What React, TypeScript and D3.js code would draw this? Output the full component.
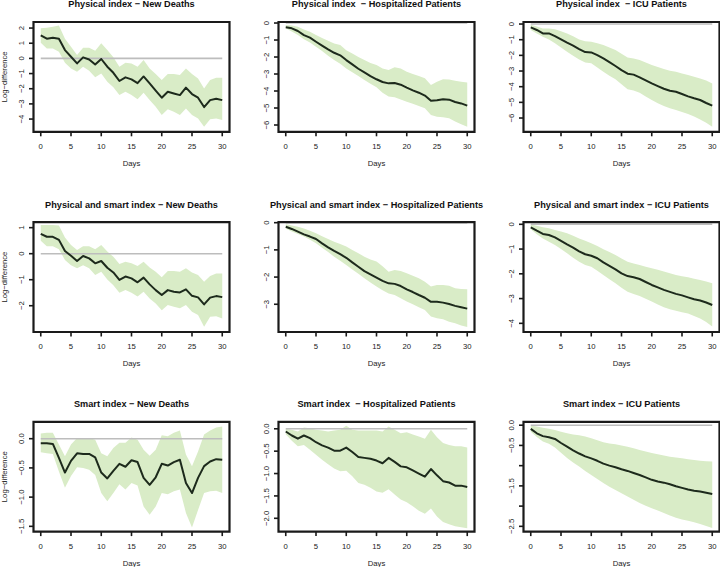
import React from 'react';
import * as d3 from 'd3';

const days = d3.range(0, 31);
const xTicks = [0, 5, 10, 15, 20, 25, 30];

const physDeathsMid = [1.52,1.30,1.36,1.30,0.55,0.11,-0.33,0.07,-0.07,-0.40,-0.04,-0.55,-0.95,-1.49,-1.25,-1.38,-1.63,-1.19,-1.65,-2.13,-2.59,-2.20,-2.31,-2.42,-1.93,-2.35,-2.59,-3.21,-2.75,-2.66,-2.75];
const physDeathsHi = [1.98,2.02,2.08,2.17,1.30,0.77,0.22,0.70,0.70,0.50,1.00,0.55,0.07,-0.55,-0.29,-0.33,-0.55,-0.11,-0.66,-1.03,-1.43,-1.03,-1.03,-1.10,-0.66,-1.03,-1.32,-1.98,-1.43,-1.27,-1.27];
const physDeathsLo = [1.03,0.66,0.66,0.44,-0.29,-0.66,-0.88,-0.55,-0.81,-1.25,-0.99,-1.54,-1.91,-2.42,-2.20,-2.42,-2.70,-2.26,-2.75,-3.19,-3.74,-3.36,-3.52,-3.74,-3.30,-3.74,-3.96,-4.50,-4.02,-3.96,-4.07];

const physHospMid = [-0.25,-0.31,-0.47,-0.71,-0.86,-1.10,-1.33,-1.55,-1.75,-1.90,-2.18,-2.43,-2.69,-2.90,-3.12,-3.31,-3.47,-3.55,-3.53,-3.63,-3.80,-3.96,-4.10,-4.27,-4.57,-4.55,-4.49,-4.51,-4.65,-4.73,-4.86];
const physHospHi = [-0.12,-0.15,-0.22,-0.38,-0.52,-0.70,-0.88,-1.05,-1.20,-1.30,-1.60,-1.80,-2.00,-2.18,-2.35,-2.47,-2.67,-2.76,-2.60,-2.67,-2.86,-3.00,-3.12,-3.25,-3.65,-3.45,-3.31,-3.33,-3.39,-3.45,-3.50];
const physHospLo = [-0.31,-0.50,-0.70,-0.95,-1.15,-1.39,-1.65,-1.92,-2.18,-2.40,-2.67,-2.90,-3.12,-3.35,-3.58,-3.78,-4.10,-4.33,-4.37,-4.50,-4.63,-4.75,-4.88,-5.02,-5.41,-5.51,-5.55,-5.60,-5.80,-5.95,-6.10];

const physIcuMid = [-0.21,-0.38,-0.60,-0.60,-0.77,-0.98,-1.19,-1.38,-1.60,-1.79,-1.81,-1.98,-2.19,-2.43,-2.68,-2.94,-3.17,-3.23,-3.40,-3.60,-3.79,-3.96,-4.13,-4.26,-4.32,-4.47,-4.62,-4.74,-4.85,-5.04,-5.21];
const physIcuHi = [-0.04,-0.15,-0.28,-0.28,-0.34,-0.46,-0.60,-0.78,-0.98,-1.10,-1.13,-1.22,-1.34,-1.50,-1.66,-1.90,-2.13,-2.20,-2.30,-2.45,-2.62,-2.75,-2.87,-2.98,-3.04,-3.15,-3.26,-3.36,-3.47,-3.60,-3.79];
const physIcuLo = [-0.38,-0.60,-0.81,-0.98,-1.23,-1.50,-1.77,-2.02,-2.26,-2.45,-2.51,-2.78,-3.04,-3.30,-3.53,-3.85,-4.17,-4.25,-4.38,-4.62,-4.85,-5.05,-5.23,-5.38,-5.49,-5.62,-5.74,-5.90,-6.09,-6.30,-6.55];

const bothDeathsMid = [0.76,0.65,0.65,0.53,0.10,-0.08,-0.28,-0.09,-0.18,-0.37,-0.28,-0.54,-0.72,-1.01,-0.88,-0.95,-1.10,-0.92,-1.18,-1.40,-1.59,-1.40,-1.46,-1.49,-1.37,-1.62,-1.68,-1.95,-1.69,-1.63,-1.67];
const bothDeathsHi = [1.10,1.10,1.10,1.08,0.62,0.33,0.14,0.29,0.29,0.17,0.33,0.08,-0.12,-0.40,-0.31,-0.37,-0.47,-0.31,-0.53,-0.69,-0.91,-0.67,-0.67,-0.69,-0.56,-0.72,-0.82,-1.08,-0.86,-0.76,-0.76];
const bothDeathsLo = [0.50,0.29,0.29,0.17,-0.24,-0.44,-0.56,-0.44,-0.56,-0.82,-0.69,-0.99,-1.21,-1.50,-1.40,-1.50,-1.65,-1.46,-1.72,-1.91,-2.17,-1.97,-2.04,-2.10,-1.97,-2.23,-2.36,-2.81,-2.42,-2.40,-2.49];

const bothHospMid = [-0.15,-0.23,-0.33,-0.43,-0.51,-0.60,-0.76,-0.91,-1.04,-1.16,-1.29,-1.46,-1.62,-1.78,-1.90,-2.02,-2.14,-2.23,-2.25,-2.33,-2.45,-2.55,-2.66,-2.76,-2.91,-2.91,-2.94,-2.99,-3.06,-3.11,-3.16];
const bothHospHi = [-0.06,-0.10,-0.15,-0.21,-0.30,-0.39,-0.50,-0.60,-0.70,-0.78,-0.88,-1.00,-1.12,-1.25,-1.35,-1.43,-1.60,-1.80,-1.74,-1.78,-1.86,-1.95,-2.04,-2.17,-2.35,-2.29,-2.29,-2.32,-2.41,-2.44,-2.45];
const bothHospLo = [-0.21,-0.32,-0.42,-0.51,-0.63,-0.76,-0.92,-1.08,-1.25,-1.40,-1.56,-1.72,-1.88,-2.04,-2.20,-2.35,-2.48,-2.60,-2.66,-2.78,-2.90,-3.00,-3.11,-3.21,-3.45,-3.51,-3.55,-3.64,-3.70,-3.78,-3.84];

const bothIcuMid = [-0.12,-0.26,-0.39,-0.43,-0.53,-0.67,-0.81,-0.94,-1.09,-1.21,-1.27,-1.37,-1.54,-1.68,-1.82,-1.98,-2.09,-2.14,-2.21,-2.33,-2.45,-2.55,-2.65,-2.73,-2.81,-2.87,-2.95,-3.03,-3.08,-3.16,-3.26];
const bothIcuHi = [-0.01,-0.06,-0.12,-0.16,-0.23,-0.29,-0.36,-0.46,-0.57,-0.66,-0.77,-0.88,-1.01,-1.12,-1.24,-1.38,-1.51,-1.58,-1.64,-1.71,-1.78,-1.84,-1.91,-1.98,-2.05,-2.10,-2.14,-2.20,-2.25,-2.31,-2.38];
const bothIcuLo = [-0.20,-0.40,-0.57,-0.70,-0.84,-1.00,-1.17,-1.35,-1.51,-1.64,-1.71,-1.88,-2.05,-2.22,-2.38,-2.56,-2.72,-2.82,-2.90,-3.01,-3.12,-3.24,-3.35,-3.43,-3.49,-3.55,-3.60,-3.70,-3.80,-3.95,-4.13];

const smartDeathsMid = [-0.08,-0.08,-0.09,-0.33,-0.58,-0.38,-0.25,-0.26,-0.26,-0.32,-0.58,-0.68,-0.55,-0.43,-0.48,-0.37,-0.40,-0.67,-0.79,-0.66,-0.43,-0.46,-0.40,-0.36,-0.76,-0.93,-0.67,-0.47,-0.39,-0.35,-0.36];
const smartDeathsHi = [0.09,0.10,0.10,-0.10,-0.30,-0.10,0.01,0.01,0.01,-0.02,-0.25,-0.30,-0.16,-0.07,-0.07,0.02,-0.02,-0.19,-0.29,-0.19,0.06,0.04,0.10,0.14,-0.27,-0.47,-0.22,0.07,0.14,0.19,0.21];
const smartDeathsLo = [-0.23,-0.25,-0.26,-0.56,-0.84,-0.64,-0.49,-0.50,-0.53,-0.62,-0.93,-1.07,-0.93,-0.78,-0.87,-0.76,-0.80,-1.16,-1.30,-1.16,-0.93,-0.95,-0.90,-0.87,-1.27,-1.52,-1.22,-0.93,-0.90,-0.89,-0.93];

const smartHospMid = [-0.06,-0.15,-0.22,-0.15,-0.21,-0.30,-0.37,-0.42,-0.49,-0.49,-0.42,-0.52,-0.63,-0.65,-0.67,-0.71,-0.77,-0.65,-0.74,-0.84,-0.86,-0.93,-1.00,-1.07,-0.90,-1.04,-1.17,-1.20,-1.27,-1.27,-1.30];
const smartHospHi = [0.00,-0.02,-0.06,0.03,0.01,-0.02,-0.04,-0.06,-0.04,-0.02,0.07,-0.02,-0.04,-0.04,-0.04,-0.04,-0.06,0.05,-0.02,-0.10,-0.08,-0.13,-0.17,-0.22,-0.02,-0.19,-0.32,-0.36,-0.39,-0.39,-0.42];
const smartHospLo = [-0.12,-0.27,-0.39,-0.36,-0.47,-0.58,-0.69,-0.79,-0.89,-0.95,-0.94,-1.06,-1.21,-1.25,-1.32,-1.40,-1.43,-1.35,-1.47,-1.58,-1.64,-1.73,-1.83,-1.90,-1.78,-1.96,-2.08,-2.13,-2.18,-2.20,-2.22];

const smartIcuMid = [-0.09,-0.20,-0.27,-0.30,-0.34,-0.44,-0.53,-0.62,-0.70,-0.77,-0.82,-0.88,-0.95,-1.00,-1.04,-1.09,-1.13,-1.18,-1.23,-1.29,-1.35,-1.39,-1.42,-1.46,-1.51,-1.55,-1.59,-1.62,-1.64,-1.67,-1.70];
const smartIcuHi = [-0.01,-0.03,-0.06,-0.09,-0.12,-0.16,-0.20,-0.23,-0.25,-0.28,-0.32,-0.37,-0.42,-0.45,-0.47,-0.50,-0.53,-0.57,-0.61,-0.65,-0.69,-0.72,-0.75,-0.78,-0.80,-0.82,-0.84,-0.86,-0.88,-0.89,-0.90];
const smartIcuLo = [-0.16,-0.29,-0.40,-0.46,-0.55,-0.68,-0.81,-0.92,-1.02,-1.13,-1.23,-1.33,-1.43,-1.52,-1.60,-1.68,-1.76,-1.84,-1.92,-1.99,-2.05,-2.11,-2.17,-2.23,-2.29,-2.33,-2.36,-2.40,-2.44,-2.49,-2.54];

const titles = [
  'Physical index − New Deaths',
  'Physical index  − Hospitalized Patients',
  'Physical index  − ICU Patients',
  'Physical and smart index − New Deaths',
  'Physical and smart index − Hospitalized Patients',
  'Physical and smart index − ICU Patients',
  'Smart index − New Deaths',
  'Smart index  − Hospitalized Patients',
  'Smart index − ICU Patients',
];

const yTicksList = [
  [2, 1, 0, -1, -2, -3, -4],
  [0, -1, -2, -3, -4, -5, -6],
  [0, -1, -2, -3, -4, -5, -6],
  [1, 0, -1, -2],
  [0, -1, -2, -3],
  [0, -1, -2, -3, -4],
  [0, -0.5, -1, -1.5],
  [0, -0.5, -1, -1.5, -2],
  [0, -0.5, -1, -1.5, -2, -2.5],
];
const yTickDecimals = [0, 0, 0, 0, 0, 0, 1, 1, 1];
const hiddenTickLabels = [[], [], [], [], [], [], [], [], [-1, -2]];

const yDomains = [
  [-4.84, 2.40],
  [-6.40, 0.06],
  [-6.88, 0.13],
  [-3.01, 1.21],
  [-4.02, 0.018],
  [-4.35, 0.085],
  [-1.59, 0.289],
  [-2.297, 0.156],
  [-2.63, 0.084],
];

const mids = [physDeathsMid, physHospMid, physIcuMid, bothDeathsMid, bothHospMid, bothIcuMid, smartDeathsMid, smartHospMid, smartIcuMid];
const his = [physDeathsHi, physHospHi, physIcuHi, bothDeathsHi, bothHospHi, bothIcuHi, smartDeathsHi, smartHospHi, smartIcuHi];
const los = [physDeathsLo, physHospLo, physIcuLo, bothDeathsLo, bothHospLo, bothIcuLo, smartDeathsLo, smartHospLo, smartIcuLo];

const W = 720;
const H = 567;
const colLeft = [33.5, 278.5, 523.5];
const boxW = 196;
const rowTop = [22, 222.2, 421.8];
const boxH = 109.8;

const FONT = '"Liberation Sans", Arial, Helvetica, sans-serif';
const BAND = '#d9ecc7';
const LINE = '#1d2a1c';
const ZERO = '#bdbdbd';
const AXIS = '#1a1a1a';

const fmt = (v: number, dec: number) => {
  const s = v.toFixed(dec);
  return s.startsWith('-') ? '−' + s.slice(1) : s;
};

function Panel({ i }: { i: number }) {
  const col = i % 3;
  const row = Math.floor(i / 3);
  const x0 = colLeft[col];
  const y0 = rowTop[row];
  const x1 = x0 + boxW;
  const y1 = y0 + boxH;
  const x = d3.scaleLinear().domain([-1.2, 31.2]).range([x0, x1]);
  const y = d3.scaleLinear().domain(yDomains[i]).range([y1, y0]);
  const data = days.map((d, k) => ({ d, m: mids[i][k], lo: los[i][k], hi: his[i][k] }));
  const area = d3.area<any>().x((p) => x(p.d)).y0((p) => y(p.lo)).y1((p) => y(p.hi));
  const line = d3.line<any>().x((p) => x(p.d)).y((p) => y(p.m));
  const frame = d3.line<[number, number]>()([[x0, y0], [x1, y0], [x1, y1], [x0, y1], [x0, y0]]) || '';
  const ticks = yTicksList[i];
  const cx = (x0 + x1) / 2;
  return (
    <g>
      <path d={area(data) || ''} fill={BAND} stroke="none" />
      <line x1={x(0)} x2={x(30)} y1={y(0)} y2={y(0)} stroke={ZERO} strokeWidth={1.6} />
      <path d={line(data) || ''} fill="none" stroke={LINE} strokeWidth={2} strokeLinejoin="round" />
      <path d={frame} fill="none" stroke={AXIS} strokeWidth={2.2} strokeLinejoin="miter" strokeLinecap="square" />
      {xTicks.map((t) => (
        <g key={'x' + t}>
          <line x1={x(t)} x2={x(t)} y1={y1} y2={y1 + 4.5} stroke={AXIS} strokeWidth={1.6} />
          <text x={x(t)} y={y1 + 14.5} textAnchor="middle" dominantBaseline="central" fontSize={7.7} fill="#222">
            {String(t)}
          </text>
        </g>
      ))}
      {ticks.map((t) => (
        <g key={'y' + t}>
          <line x1={x0 - 4.5} x2={x0} y1={y(t)} y2={y(t)} stroke={AXIS} strokeWidth={1.6} />
          {hiddenTickLabels[i].includes(t) ? null : (
            <text
              transform={`translate(${x0 - 12},${y(t)}) rotate(-90)`}
              textAnchor="middle"
              dominantBaseline="central"
              fontSize={7.7}
              fill="#222"
            >
              {fmt(t, yTickDecimals[i])}
            </text>
          )}
        </g>
      ))}
      <text x={cx} y={y0 - 17.7} textAnchor="middle" dominantBaseline="central" fontSize={9.2} fontWeight="bold" fill="#111" style={{ whiteSpace: 'pre' }}>
        {titles[i]}
      </text>
      <text x={cx} y={y1 + 31.5} textAnchor="middle" dominantBaseline="central" fontSize={7.7} fill="#222">
        Days
      </text>
      {col === 0 ? (
        <text transform={`translate(4,${(y0 + y1) / 2}) rotate(-90)`} textAnchor="middle" dominantBaseline="central" fontSize={7.7} fill="#222">
          Log−difference
        </text>
      ) : null}
    </g>
  );
}

export default function App() {
  return (
    <svg
      width={W}
      height={H}
      viewBox={`0 0 ${W} ${H}`}
      style={{ position: 'absolute', left: 0, top: 0, background: '#fff', fontFamily: FONT }}
    >
      <rect x={0} y={0} width={W} height={H} fill="#fff" />
      {d3.range(9).map((i) => (
        <Panel key={i} i={i} />
      ))}
    </svg>
  );
}
